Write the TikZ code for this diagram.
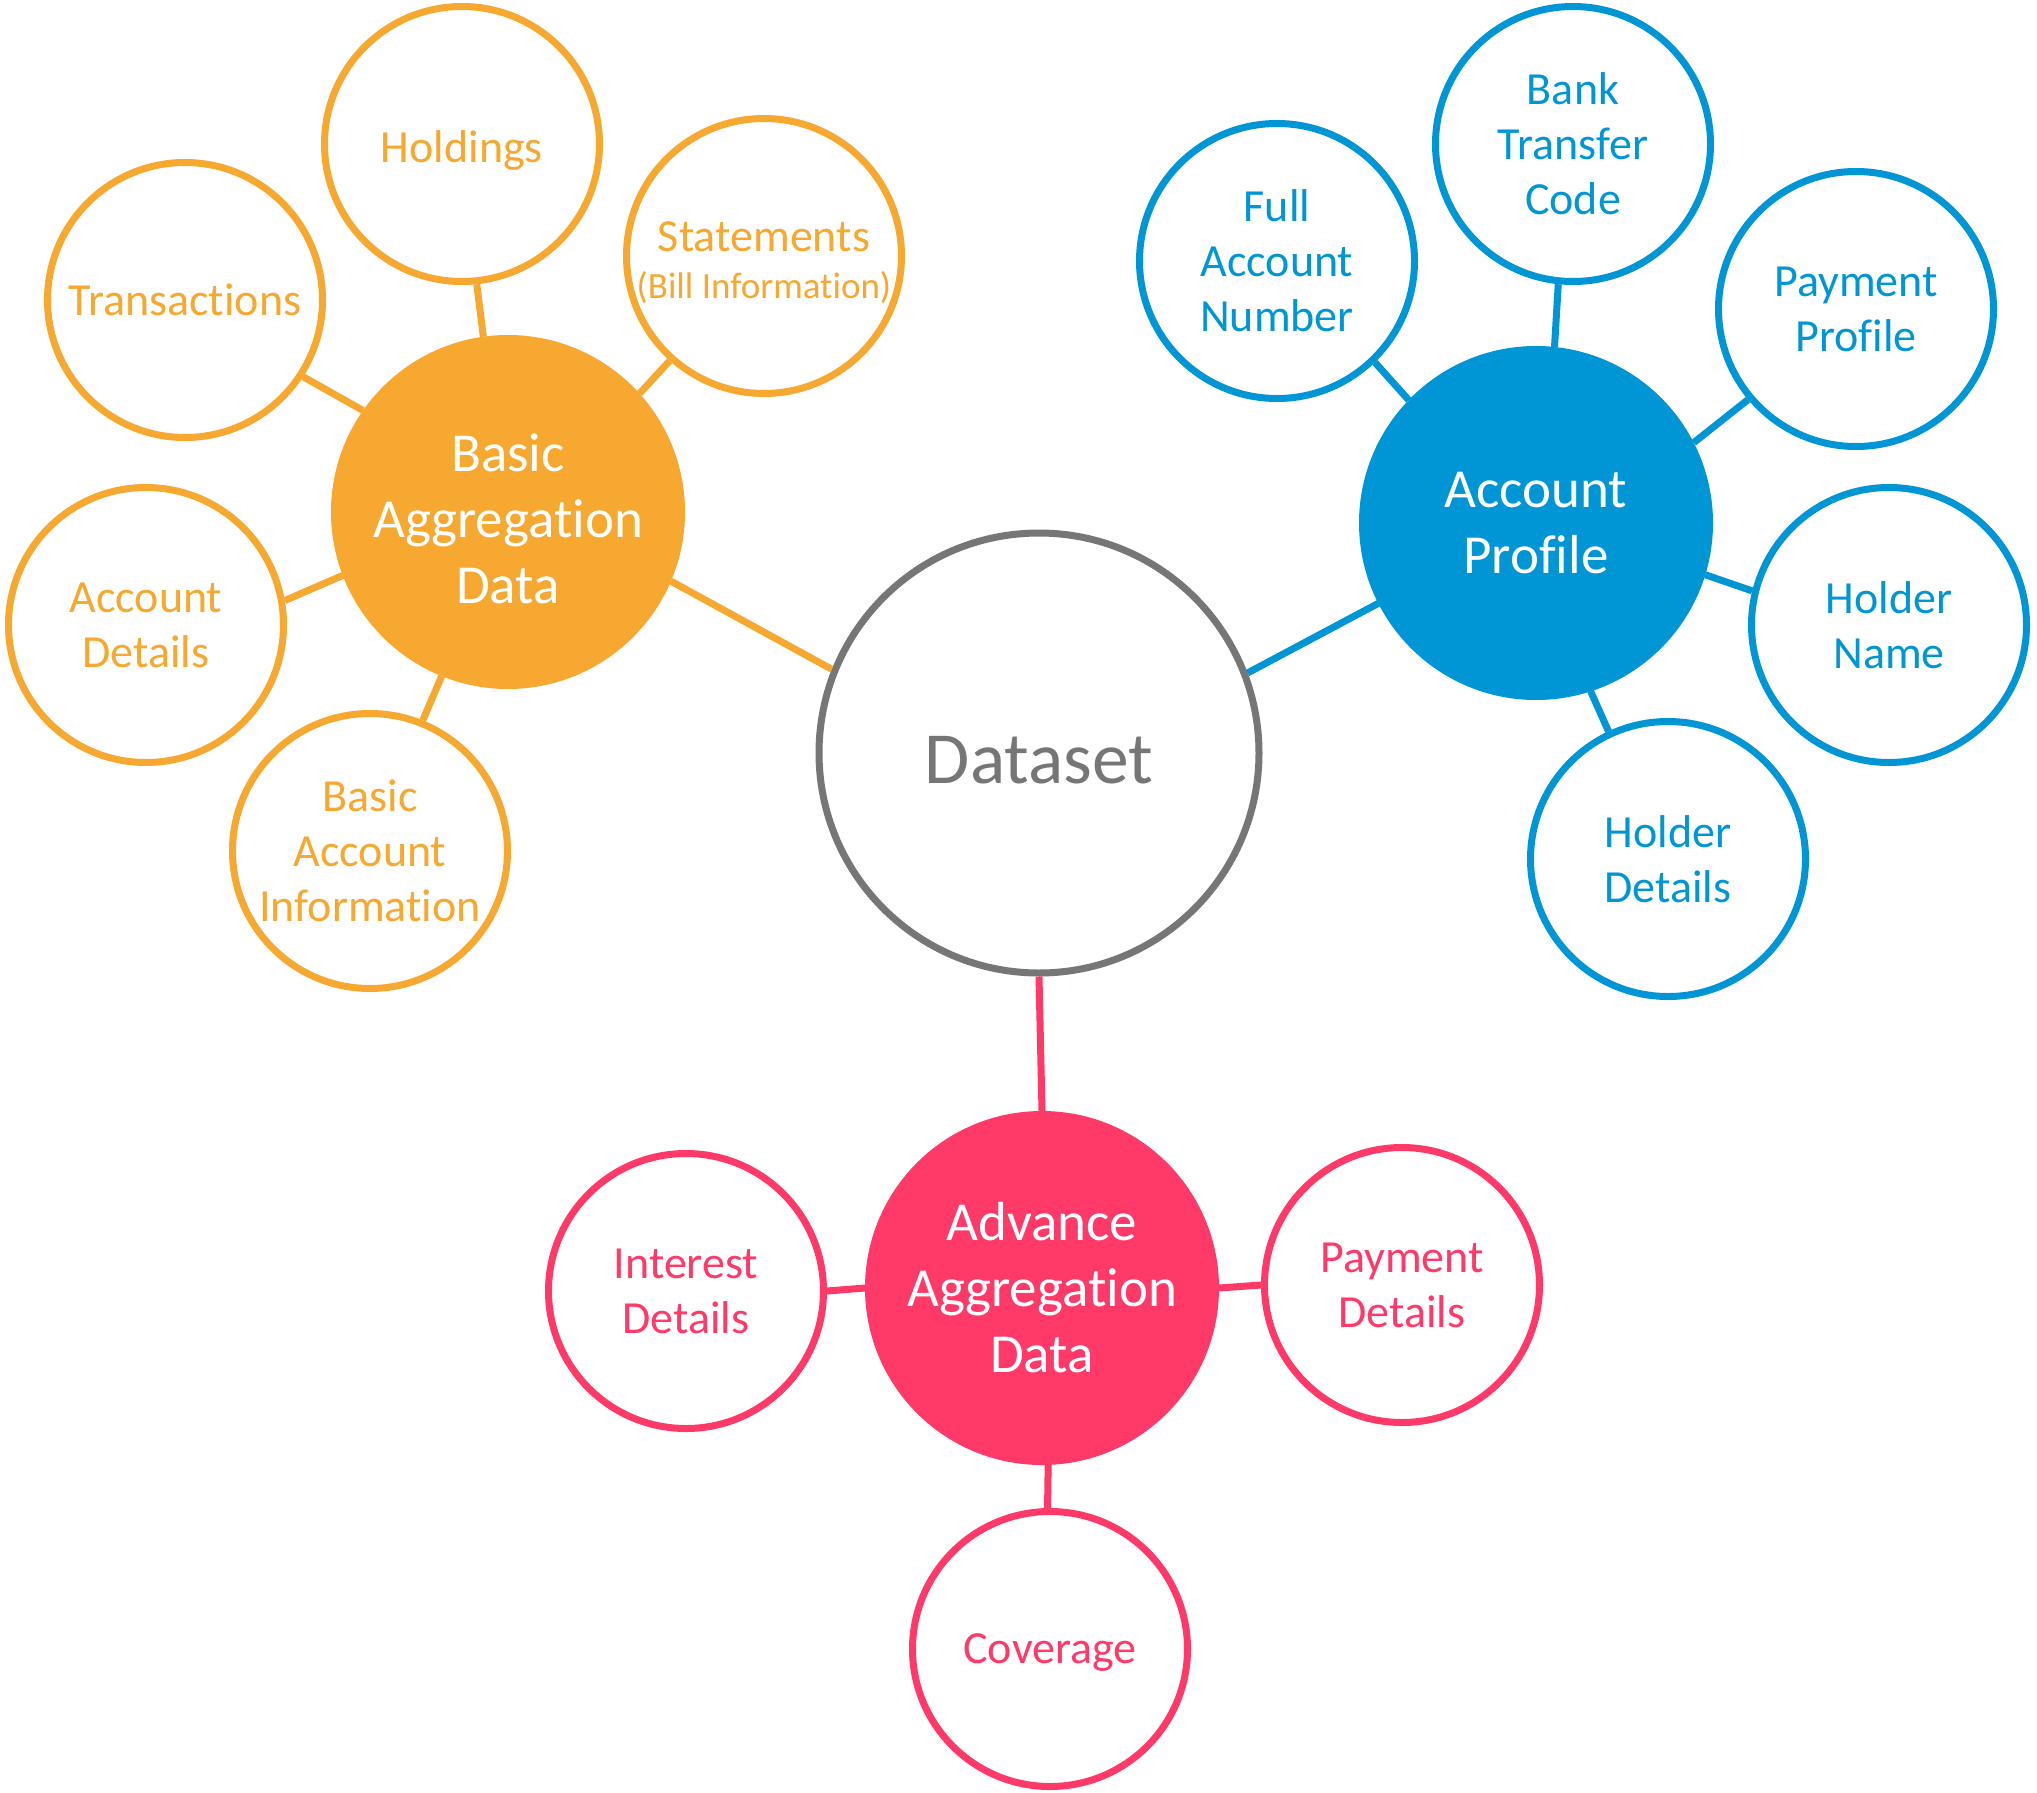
\documentclass[tikz,border=0pt]{standalone}
\usepackage{fontspec}
\setmainfont{Carlito}[Ligatures=NoCommon]
\definecolor{borange}{HTML}{F7A830}
\definecolor{bblue}{HTML}{0096D6}
\definecolor{bpink}{HTML}{FF3A68}
\definecolor{bgray}{HTML}{767676}
\begin{document}
\begin{tikzpicture}[x=1pt,y=-1pt,
  leafnode/.style={circle,draw=#1,line width=7pt,fill=white,minimum size=275pt,inner sep=0pt,align=center,text=#1,text depth=0pt,font=\fontsize{46}{55}\selectfont},
  hubnode/.style={circle,fill=#1,minimum size=354pt,inner sep=0pt,outer sep=0pt,align=center,text=white,font=\fontsize{55}{66}\selectfont},
  linkline/.style={line width=7pt,draw=#1}]
\useasboundingbox (0,0) rectangle (2037,1793);
\fill[white] (0,0) rectangle (2037,1793);

% central
\node[circle,draw=bgray,line width=7pt,fill=white,minimum size=440pt,inner sep=0pt,text=bgray,text height=60pt,text depth=0pt,font=\fontsize{73.5}{88}\selectfont] (ds) at (1039,753) {Dataset};

% hubs
\node[hubnode=borange,text height=183pt,text depth=0pt] (bad) at (508,512) {Basic\\Aggregation\\Data};
\node[hubnode=bblue] (ap) at (1536,523) {Account\\Profile};
\node[hubnode=bpink] (aad) at (1042,1288) {Advance\\Aggregation\\Data};

% orange leaves
\node[leafnode=borange] (hold) at (462,144) {\rule{0pt}{37pt}Holdings};
\node[leafnode=borange] (trans) at (185,300) {Transactions};
\node[leafnode=borange] (stat) at (764,256) {\rule{0pt}{38pt}Statements\\[-8pt]{\fontsize{37}{44}\selectfont(Bill Information)}};
\node[leafnode=borange] (accd) at (146,625) {Account\\Details};
\node[leafnode=borange] (bai) at (370,851) {Basic\\Account\\Information};

% blue leaves
\node[leafnode=bblue] (fan) at (1277,261) {Full\\Account\\Number};
\node[leafnode=bblue] (btc) at (1573,144) {Bank\\Transfer\\Code};
\node[leafnode=bblue] (pp) at (1856,309) {Payment\\Profile};
\node[leafnode=bblue] (hn) at (1889,625) {Holder\\Name};
\node[leafnode=bblue] (hd) at (1668,859) {Holder\\Details};

% pink leaves
\node[leafnode=bpink] (intd) at (686,1291) {Interest\\Details};
\node[leafnode=bpink] (payd) at (1402,1285) {Payment\\Details};
\node[leafnode=bpink] (cov) at (1050,1649) {Coverage};

% orange connectors
\draw[linkline=borange] (hold.276.3) -- (bad.98.1);
\draw[linkline=borange] (trans.-33.5) -- (bad.145.3);
\draw[linkline=borange] (stat.228.7) -- (bad.42.7);
\draw[linkline=borange] (accd.10.1) -- (bad.201.8);
\draw[linkline=borange] (bai.68.8) -- (bad.248.1);
\draw[linkline=borange] (bad.-23) -- (ds.158.8);

% blue connectors
\draw[linkline=bblue] (ds.21.8) -- (ap.207.1);
\draw[linkline=bblue] (fan.-46.4) -- (ap.136.6);
\draw[linkline=bblue] (btc.264.4) -- (ap.84.1);
\draw[linkline=bblue] (pp.220.7) -- (ap.27);
\draw[linkline=bblue] (hn.166.6) -- (ap.-17);
\draw[linkline=bblue] (hd.115.2) -- (ap.-72);

% pink connectors
\draw[linkline=bpink] (ds.-90.3) -- (aad.90.6);
\draw[linkline=bpink] (intd.0) -- (aad.180);
\draw[linkline=bpink] (payd.180) -- (aad.0);
\draw[linkline=bpink] (cov.91.2) -- (aad.-88.7);
\end{tikzpicture}
\end{document}
